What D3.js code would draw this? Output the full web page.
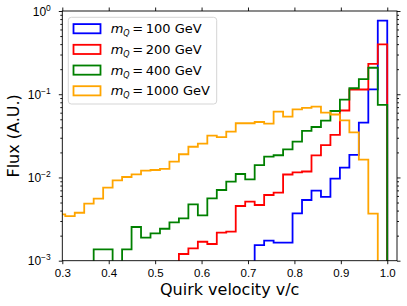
<!DOCTYPE html>
<html lang="en">
<head>
  <meta charset="UTF-8">
  <title>Quirk velocity flux</title>
  <script src="https://d3js.org/d3.v7.min.js"></script>
  <style>
    body { margin: 0; background: #fff; }
    svg { display: block; font-family: "DejaVu Sans", sans-serif; }
    .tick text { font-size: 11.5px; fill: #000; }
    .tick line { stroke: #000; stroke-width: 0.9; }
  </style>
</head>
<body>
  <svg width="407" height="306"></svg>

  <script>
    // bin edges (velocity v/c), 35 bins ending at 1.0
    const binEdges = [0.286, 0.3064, 0.3268, 0.3472, 0.3676, 0.388, 0.4084, 0.4288, 0.4492,
      0.4696, 0.49, 0.5104, 0.5308, 0.5512, 0.5716, 0.592, 0.6124, 0.6328, 0.6532, 0.6736,
      0.694, 0.7144, 0.7348, 0.7552, 0.7756, 0.796, 0.8164, 0.8368, 0.8572, 0.8776, 0.898,
      0.9184, 0.9388, 0.9592, 0.9796, 1.0];

    const flux100 = [0, 0, 0, 0, 0, 0, 0, 0, 0, 0, 0, 0, 0, 0, 0, 0, 0, 0, 0, 0, 0,
      1.54e-3, 1.74e-3, 1.645e-3, 1.645e-3, 3.71e-3, 5.36e-3, 6.93e-3, 5.83e-3, 9.66e-3,
      1.31e-2, 1.87e-2, 4.55e-2, 0.1147, 0.765];

    const flux200 = [0, 0, 0, 0, 0, 0, 0, 0, 0, 0, 0, 0, 0,
      1.204e-3, 1.41e-3, 1.69e-3, 1.587e-3, 2.17e-3, 2.23e-3, 4.54e-3, 5.12e-3, 4.67e-3,
      6.16e-3, 6.56e-3, 1.086e-2, 1.154e-2, 1.18e-2, 1.84e-2, 2.45e-2, 3.24e-2, 6.38e-2,
      0.114, 0.114, 0.231, 0.398];

    const flux400 = [0, 0, 0, 0, 1.37e-3, 1.37e-3, 0, 1.37e-3, 2.54e-3, 1.89e-3, 2.13e-3,
      2.42e-3, 2.89e-3, 3.23e-3, 4.76e-3, 3.51e-3, 5.62e-3, 7.07e-3, 8.89e-3, 1.10e-2,
      9.51e-3, 1.41e-2, 1.78e-2, 1.85e-2, 2.18e-2, 2.69e-2, 3.62e-2, 4.04e-2, 4.81e-2,
      6.29e-2, 8.60e-2, 0.118, 0.152, 0.208, 7.43e-2];

    const flux1000 = [3.61e-3, 3.44e-3, 3.77e-3, 4.84e-3, 5.56e-3, 7.54e-3, 9.25e-3, 1.013e-2,
      1.09e-2, 1.21e-2, 1.23e-2, 1.27e-2, 1.55e-2, 1.90e-2, 2.34e-2, 2.55e-2, 3.18e-2,
      3.06e-2, 3.55e-2, 4.48e-2, 4.48e-2, 4.64e-2, 4.43e-2, 6.17e-2, 5.37e-2, 6.59e-2,
      6.84e-2, 7.08e-2, 6.0e-2, 5.71e-2, 4.86e-2, 3.49e-2, 1.64e-2, 3.67e-3, 0];

    const masses = ["100", "200", "400", "1000"];
    const colors = ["blue", "red", "green", "orange"];
    const seriesValues = [flux100, flux200, flux400, flux1000];

    const xTicks = [0.3, 0.4, 0.5, 0.6, 0.7, 0.8, 0.9, 1.0];
    const yTicks = [1e-3, 1e-2, 1e-1, 1];
    const yTickExp = ["\u22123", "\u22122", "\u22121", "0"];

    const plotL = 62.3, plotR = 397, plotT = 11, plotB = 260.7;

    const svg = d3.select("svg");

    const x = d3.scaleLinear().domain([0.3, 1.021]).range([plotL, plotR]);
    const y = d3.scaleLog().domain([1e-3, 1]).range([plotB, plotT]);

    svg.append("defs").append("clipPath").attr("id", "plot")
      .append("rect")
      .attr("x", plotL).attr("y", plotT)
      .attr("width", plotR - plotL).attr("height", plotB - plotT);

    // step histograms
    const line = d3.line().x(d => x(d[0])).y(d => y(Math.max(d[1], 1e-6)));

    seriesValues.forEach((vals, s) => {
      const pts = [[binEdges[0], 0]];
      vals.forEach((v, i) => {
        pts.push([binEdges[i], v]);
        pts.push([binEdges[i + 1], v]);
      });
      pts.push([binEdges[binEdges.length - 1], 0]);
      svg.append("path")
        .attr("clip-path", "url(#plot)")
        .attr("d", line(pts))
        .attr("fill", "none")
        .attr("stroke", colors[s])
        .attr("stroke-width", 1.8)
        .attr("stroke-linejoin", "miter");
    });

    // minor log ticks
    const yMinor = [];
    [1e-3, 1e-2, 1e-1].forEach(d => {
      for (let k = 2; k <= 9; k++) yMinor.push(d * k);
    });

    // axes
    const xAxis = svg.append("g").attr("transform", `translate(0,${plotB})`)
      .call(d3.axisBottom(x).tickValues(xTicks).tickSize(3.5).tickSizeOuter(0)
        .tickFormat(d3.format(".1f")));
    xAxis.selectAll(".tick text").attr("y", 16).attr("dy", 0);

    svg.append("g").attr("transform", `translate(0,${plotT})`)
      .call(d3.axisTop(x).tickValues(xTicks).tickSize(3.5).tickSizeOuter(0).tickFormat(""));

    const yAxis = svg.append("g").attr("transform", `translate(${plotL},0)`)
      .call(d3.axisLeft(y).tickValues(yTicks).tickSize(3.5).tickSizeOuter(0));
    yAxis.selectAll(".tick text")
      .attr("x", -11.5).attr("dy", "0.35em")
      .style("font-size", "12px")
      .text(null)
      .each(function (d, i) {
        const t = d3.select(this);
        t.append("tspan").text("10");
        t.append("tspan").attr("dy", -5).attr("font-size", 8.5).text(yTickExp[i]);
      });

    svg.append("g").attr("transform", `translate(${plotL},0)`)
      .call(d3.axisLeft(y).tickValues(yMinor).tickSize(2).tickSizeOuter(0).tickFormat(""));

    svg.append("g").attr("transform", `translate(${plotR},0)`)
      .call(d3.axisRight(y).tickValues(yTicks).tickSize(3.5).tickSizeOuter(0).tickFormat(""));
    svg.append("g").attr("transform", `translate(${plotR},0)`)
      .call(d3.axisRight(y).tickValues(yMinor).tickSize(2).tickSizeOuter(0).tickFormat(""));

    svg.selectAll(".domain").remove();

    svg.append("rect")
      .attr("x", plotL).attr("y", plotT)
      .attr("width", plotR - plotL).attr("height", plotB - plotT)
      .attr("fill", "none").attr("stroke", "#000").attr("stroke-width", 0.9);

    // axis titles
    svg.append("text")
      .attr("x", (plotL + plotR) / 2).attr("y", 295)
      .attr("text-anchor", "middle")
      .attr("font-size", 16)
      .text("Quirk velocity v/c");

    svg.append("text")
      .attr("transform", `translate(19,${(plotT + plotB) / 2}) rotate(-90)`)
      .attr("text-anchor", "middle")
      .attr("font-size", 16)
      .text("Flux (A.U.)");

    // legend
    const legend = svg.append("g");
    legend.append("rect")
      .attr("x", 68.3).attr("y", 17.3)
      .attr("width", 148.4).attr("height", 86.7)
      .attr("rx", 3)
      .attr("fill", "#fff").attr("fill-opacity", 0.8)
      .attr("stroke", "#d0d0d0").attr("stroke-width", 0.9);

    masses.forEach((m, i) => {
      const cy = 28.7 + i * 20.7;
      legend.append("rect")
        .attr("x", 73.5).attr("y", cy - 4.6)
        .attr("width", 27).attr("height", 9.2)
        .attr("fill", "none")
        .attr("stroke", colors[i]).attr("stroke-width", 1.8);
      const t = legend.append("text")
        .attr("x", 110.7).attr("y", cy + 4.6)
        .attr("font-size", 13);
      t.append("tspan").attr("font-style", "italic").text("m");
      t.append("tspan").attr("font-style", "italic").attr("font-size", 8).attr("dy", 2.8).text("Q");
      t.append("tspan").attr("dy", -2.8).text("\u2009=\u2009" + m + " GeV");
    });
  </script>
</body>
</html>
